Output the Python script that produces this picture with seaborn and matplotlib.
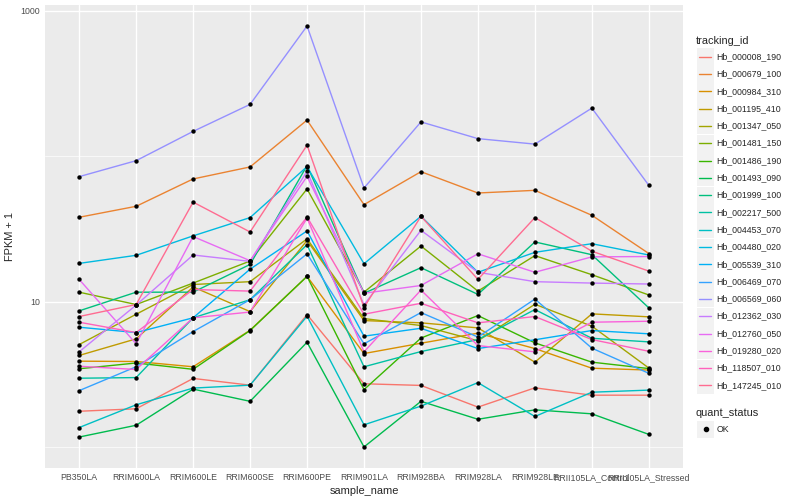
import numpy as np
import pandas as pd
import seaborn as sns
import matplotlib.pyplot as plt
from matplotlib.patches import Rectangle
from matplotlib.lines import Line2D

# FPKM + 1 values, one list per gene, in sample order
samples = [
    "PB350LA", "RRIM600LA", "RRIM600LE", "RRIM600SE", "RRIM600PE", "RRIM901LA",
    "RRIM928BA", "RRIM928LA", "RRIM928LE", "RRII105LA_Control", "RRII105LA_Stressed",
]

hb_000008_190 = [1.76, 1.83, 2.96, 2.66, 8.14, 2.72, 2.65, 1.88, 2.55, 2.27, 2.27]
hb_000679_100 = [38.0, 45.2, 69.7, 84.3, 177, 46.4, 78.2, 55.8, 58.2, 39.2, 21.4]
hb_000984_310 = [3.89, 3.87, 3.56, 6.35, 14.9, 4.39, 5.17, 6.06, 4.75, 3.48, 3.38]
hb_001195_410 = [4.26, 5.54, 12.6, 8.53, 26.3, 7.40, 7.14, 6.59, 3.83, 8.23, 7.85]
hb_001347_050 = [5.06, 8.18, 13.1, 13.7, 27.0, 7.64, 6.84, 5.37, 9.58, 6.77, 3.49]
hb_001481_150 = [11.6, 9.54, 13.4, 19.0, 59.5, 11.6, 24.1, 11.8, 20.7, 15.3, 11.1]
hb_001486_190 = [3.45, 3.78, 3.42, 6.32, 14.9, 2.48, 5.61, 8.01, 5.20, 3.83, 3.46]
hb_001493_090 = [1.17, 1.41, 2.50, 2.06, 5.25, 1.00, 2.06, 1.55, 1.80, 1.69, 1.22]
hb_001999_100 = [8.63, 11.6, 11.6, 18.0, 86.1, 11.4, 17.1, 11.2, 25.7, 21.0, 9.05]
hb_002217_500 = [2.97, 3.00, 7.73, 10.3, 24.6, 3.56, 4.53, 5.48, 8.81, 5.59, 5.28]
hb_004453_070 = [1.36, 1.95, 2.54, 2.66, 7.93, 1.42, 1.91, 2.77, 1.62, 2.38, 2.46]
hb_004480_020 = [18.3, 20.8, 28.3, 37.8, 84.7, 18.2, 38.6, 15.9, 21.8, 25.0, 20.9]
hb_005539_310 = [6.66, 6.12, 7.73, 16.7, 30.6, 5.78, 6.55, 4.75, 5.46, 6.32, 6.00]
hb_006469_070 = [2.44, 3.56, 6.22, 10.3, 21.3, 5.12, 8.40, 5.70, 10.4, 4.78, 3.21]
hb_006569_060 = [72.3, 93.1, 148, 227, 785, 60.4, 172, 132, 121, 214, 63.0]
hb_012362_030 = [4.51, 9.46, 20.9, 18.9, 78.6, 9.49, 30.9, 15.9, 13.7, 13.4, 13.2]
hb_012760_050 = [14.2, 5.12, 28.0, 19.1, 72.6, 11.4, 12.9, 21.3, 15.9, 20.3, 20.4]
hb_019280_020 = [3.59, 3.41, 7.73, 8.47, 37.5, 4.51, 12.0, 4.98, 4.51, 7.21, 7.32]
hb_118507_010 = [7.21, 6.12, 12.1, 11.8, 38.2, 8.18, 9.73, 7.14, 7.89, 5.48, 4.55]
hb_147245_010 = [7.89, 9.54, 48.3, 30.1, 119, 9.10, 38.6, 14.2, 37.8, 22.2, 16.2]

tracking_ids = [
    "Hb_000008_190", "Hb_000679_100", "Hb_000984_310", "Hb_001195_410",
    "Hb_001347_050", "Hb_001481_150", "Hb_001486_190", "Hb_001493_090",
    "Hb_001999_100", "Hb_002217_500", "Hb_004453_070", "Hb_004480_020",
    "Hb_005539_310", "Hb_006469_070", "Hb_006569_060", "Hb_012362_030",
    "Hb_012760_050", "Hb_019280_020", "Hb_118507_010", "Hb_147245_010",
]
series = [
    hb_000008_190, hb_000679_100, hb_000984_310, hb_001195_410, hb_001347_050,
    hb_001481_150, hb_001486_190, hb_001493_090, hb_001999_100, hb_002217_500,
    hb_004453_070, hb_004480_020, hb_005539_310, hb_006469_070, hb_006569_060,
    hb_012362_030, hb_012760_050, hb_019280_020, hb_118507_010, hb_147245_010,
]

# ggplot default hue palette for 20 levels
colors = [
    "#F8766D", "#EA8331", "#D89000", "#C09B00", "#A3A500", "#7CAE00", "#39B600",
    "#00BB4E", "#00BF7D", "#00C1A3", "#00BFC4", "#00BAE0", "#00B0F6", "#35A2FF",
    "#9590FF", "#C77CFF", "#E76BF3", "#FA62DB", "#FF62BC", "#FF6C91",
]
palette = dict(zip(tracking_ids, colors))

rows = []
for tid, vals in zip(tracking_ids, series):
    for s, v in zip(samples, vals):
        rows.append({"tracking_id": tid, "sample_name": s, "fpkm": v, "quant_status": "OK"})
df = pd.DataFrame(rows)

sns.set_style("darkgrid", {"axes.facecolor": "#EBEBEB", "grid.color": "white"})
plt.rcParams["font.family"] = ["Liberation Sans", "DejaVu Sans"]

W, H = 800, 500
fig = plt.figure(figsize=(8, 5), dpi=100)
ax = fig.add_axes([45 / W, 1 - 468 / H, 638 / W, 463 / H])

sns.lineplot(data=df, x="sample_name", y="fpkm", hue="tracking_id", palette=palette,
             linewidth=1.0, errorbar=None, sort=False, legend=False, ax=ax)
sns.scatterplot(data=df, x="sample_name", y="fpkm", color="black", s=10,
                linewidth=0, legend=False, ax=ax, zorder=3)

ax.set_yscale("log")
lo, hi = np.log10(df["fpkm"].min()), np.log10(df["fpkm"].max())
pad = 0.05 * (hi - lo)
ax.set_ylim(10 ** (lo - pad), 10 ** (hi + pad))
ax.set_xlim(-0.6, len(samples) - 0.4)

ax.set_yticks([10, 1000])
ax.set_yticklabels(["10", "1000"])
ax.set_yticks([1, 100], minor=True)
ax.yaxis.set_minor_formatter(plt.NullFormatter())
ax.grid(True, which="major", color="white", linewidth=1.0)
ax.grid(True, which="minor", axis="y", color="white", linewidth=0.5)
ax.set_axisbelow(True)
for sp in ax.spines.values():
    sp.set_visible(False)

ax.tick_params(axis="both", which="major", length=2, width=0.8, color="#333333",
               labelsize=6.3, labelcolor="#4D4D4D", pad=1.6)
ax.tick_params(axis="y", which="minor", length=0)
ax.set_xlabel("sample_name", fontsize=7.9, labelpad=3)
ax.set_ylabel("FPKM + 1", fontsize=7.9, labelpad=4)

# legend, drawn ggplot-style on the right
def fx(px):
    return px / W

def fy(py):
    return 1 - py / H

fig.text(fx(696), fy(40.7), "tracking_id", fontsize=7.9, va="center", ha="left")
for i, (tid, col) in enumerate(zip(tracking_ids, colors)):
    yc = 56.7 + i * 17.3
    fig.patches.append(Rectangle((fx(697), fy(yc + 8.5)), 17 / W, 17 / H,
                                 transform=fig.transFigure, facecolor="#F2F2F2",
                                 edgecolor="none"))
    fig.lines.append(Line2D([fx(699), fx(711)], [fy(yc), fy(yc)],
                           transform=fig.transFigure, color=col, linewidth=1.0))
    fig.text(fx(716.5), fy(yc), tid, fontsize=6.3, va="center", ha="left")

fig.text(fx(696), fy(413), "quant_status", fontsize=7.9, va="center", ha="left")
fig.patches.append(Rectangle((fx(697), fy(437.5)), 17 / W, 17 / H,
                             transform=fig.transFigure, facecolor="#F2F2F2",
                             edgecolor="none"))
fig.lines.append(Line2D([fx(705.5)], [fy(429)], transform=fig.transFigure,
                        marker="o", markersize=3, color="black", linestyle="none"))
fig.text(fx(716.5), fy(429), "OK", fontsize=6.3, va="center", ha="left")

fig.savefig("out.png", dpi=100)
